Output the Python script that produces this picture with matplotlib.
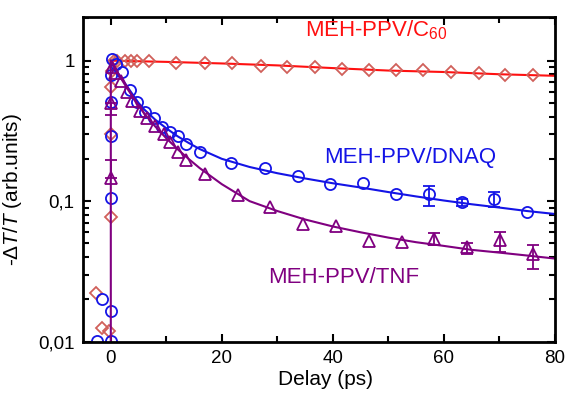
import matplotlib
matplotlib.use('Agg')
import matplotlib.pyplot as plt
from matplotlib.ticker import FixedLocator, FixedFormatter, LogLocator, NullFormatter

plt.rcParams['font.family'] = ['Liberation Sans', 'DejaVu Sans']
plt.rcParams['mathtext.fontset'] = 'custom'
plt.rcParams['mathtext.rm'] = 'Liberation Sans'
plt.rcParams['mathtext.it'] = 'Liberation Sans:italic'

# MEH-PPV/C60 (diamonds)
c60_x = [-2.7, -1.5, -0.3, 0, 0, 0, 0.2, 0.5, 1.2, 2.5, 3.6, 4.7, 6.8, 11.8, 16.9,
         21.9, 27, 31.8, 36.8, 41.7, 46.5, 51.4, 56.3, 61.3, 66.3, 71, 76]
c60_y = [0.022, 0.0125, 0.0119, 0.077, 0.30, 0.65, 0.85, 1.0, 1.0, 1.0, 0.99, 1.0, 0.99,
         0.968, 0.965, 0.955, 0.92, 0.906, 0.906, 0.869, 0.859, 0.859, 0.855, 0.834,
         0.813, 0.79, 0.79]
c60_fit_x = [0, 10, 20, 30, 40, 50, 60, 70, 80]
c60_fit_y = [1.0, 0.98, 0.955, 0.925, 0.885, 0.85, 0.83, 0.80, 0.78]

# MEH-PPV/DNAQ (circles)
dnaq_x = [-2.4, -1.5, 0, 0, 0, 0, 0, 0, 0.3, 1, 2.1, 3.4, 4.7, 6.2, 7.7, 9.2, 10.7,
          12.1, 13.6, 16, 21.7, 27.8, 33.7, 39.5, 45.5, 51.3, 57.3, 63.2, 69.1, 75]
dnaq_y = [0.0101, 0.020, 0.0101, 0.0165, 0.106, 0.29, 0.51, 0.79, 1.02, 0.95, 0.835,
          0.62, 0.51, 0.43, 0.388, 0.338, 0.31, 0.29, 0.257, 0.224, 0.188, 0.172,
          0.150, 0.133, 0.134, 0.113, 0.113, 0.098, 0.104, 0.083]
dnaq_err_x = [57.3, 63.2, 69.1]
dnaq_err_y = [0.113, 0.098, 0.104]
dnaq_err_lo = [0.093, 0.092, 0.091]
dnaq_err_hi = [0.129, 0.104, 0.116]
dnaq_fit_x = [0, 1, 2, 3, 4, 5, 6, 8, 10, 12, 14, 16, 20, 25, 30, 35, 40, 45, 50,
              55, 60, 65, 70, 75, 80]
dnaq_fit_y = [1.0, 0.85, 0.74, 0.65, 0.57, 0.50, 0.45, 0.38, 0.33, 0.29, 0.26, 0.235,
              0.20, 0.175, 0.158, 0.145, 0.134, 0.125, 0.116, 0.108, 0.101, 0.095,
              0.090, 0.085, 0.081]

# MEH-PPV/TNF (triangles)
tnf_x = [0, 0, 0.3, 0.8, 1.8, 3, 3.9, 5.3, 6.5, 8, 9.5, 10.7, 12.1, 13.6, 16.9,
         22.9, 28.7, 34.6, 40.6, 46.5, 52.4, 58.3, 64.2, 70.2, 76.1]
tnf_y = [0.145, 0.50, 0.9, 0.82, 0.72, 0.60, 0.52, 0.44, 0.39, 0.34, 0.30, 0.265,
         0.225, 0.195, 0.157, 0.111, 0.0906, 0.069, 0.066, 0.052, 0.051, 0.054,
         0.047, 0.053, 0.0418]
tnf_err_x = [0, 0, 58.3, 64.2, 70.2, 76.1]
tnf_err_y = [0.145, 0.50, 0.054, 0.047, 0.053, 0.0418]
tnf_err_lo = [0.145, 0.41, 0.0486, 0.0418, 0.0433, 0.0329]
tnf_err_hi = [0.195, 0.50, 0.059, 0.050, 0.0601, 0.049]
tnf_fit_x = [0, 0, 1, 2, 3, 4, 5, 6, 8, 10, 12, 14, 16, 20, 25, 30, 35, 40, 45, 50,
             55, 60, 65, 70, 75, 80]
tnf_fit_y = [0.005, 1.0, 0.85, 0.73, 0.63, 0.55, 0.48, 0.42, 0.34, 0.28, 0.235, 0.20,
             0.172, 0.132, 0.10, 0.085, 0.074, 0.066, 0.060, 0.055, 0.051, 0.048,
             0.045, 0.043, 0.041, 0.039]

y_ticks = [0.01, 0.1, 1]
y_tick_labels = ['0,01', '0,1', '1']
x_ticks = [0, 20, 40, 60, 80]

RED = '#ff1010'
RED_MK = '#d0605a'
BLUE = '#1414e6'
PURPLE = '#800080'

fig = plt.figure(figsize=(5.65, 3.94), dpi=100)
ax = fig.add_axes([0.147, 0.133, 0.835, 0.825])

mk = dict(linestyle='none', markerfacecolor='none', markeredgewidth=1.3)

ax.plot(c60_fit_x, c60_fit_y, '-', color=RED, lw=1.5)
ax.plot(c60_x, c60_y, marker='D', markersize=6.5, markeredgecolor=RED_MK, **mk)

ax.errorbar(dnaq_err_x, dnaq_err_y,
            yerr=[[y - l for y, l in zip(dnaq_err_y, dnaq_err_lo)],
                  [h - y for y, h in zip(dnaq_err_y, dnaq_err_hi)]],
            fmt='none', ecolor=BLUE, elinewidth=1.3, capsize=4, capthick=1.3)
ax.plot(dnaq_fit_x, dnaq_fit_y, '-', color=BLUE, lw=1.5)
ax.plot(dnaq_x, dnaq_y, marker='o', markersize=8, markeredgecolor=BLUE, **mk)

ax.errorbar(tnf_err_x, tnf_err_y,
            yerr=[[y - l for y, l in zip(tnf_err_y, tnf_err_lo)],
                  [h - y for y, h in zip(tnf_err_y, tnf_err_hi)]],
            fmt='none', ecolor=PURPLE, elinewidth=1.3, capsize=4, capthick=1.3)
ax.plot(tnf_fit_x, tnf_fit_y, '-', color=PURPLE, lw=1.5)
ax.plot(tnf_x, tnf_y, marker='^', markersize=8, markeredgecolor=PURPLE, **mk)

ax.set_yscale('log')
ax.set_xlim(-5, 80)
ax.set_ylim(0.01, 2.06)

ax.yaxis.set_major_locator(FixedLocator(y_ticks))
ax.yaxis.set_major_formatter(FixedFormatter(y_tick_labels))
ax.yaxis.set_minor_locator(LogLocator(base=10, subs=range(2, 10)))
ax.yaxis.set_minor_formatter(NullFormatter())
ax.set_xticks(x_ticks)
ax.set_xticks([10, 30, 50, 70], minor=True)

ax.tick_params(which='both', direction='in', top=True, right=True,
               labelsize=13.5, width=1.5, pad=6)
ax.tick_params(which='major', length=6)
ax.tick_params(which='minor', length=4)
for s in ax.spines.values():
    s.set_linewidth(2)

ax.text(35, 1.66, 'MEH-PPV/C$_{60}$', color=RED, fontsize=16, va='center')
ax.text(38.5, 0.205, 'MEH-PPV/DNAQ', color=BLUE, fontsize=16, va='center')
ax.text(28.4, 0.0285, 'MEH-PPV/TNF', color=PURPLE, fontsize=16, va='center')

ax.set_xlabel('Delay (ps)', fontsize=15)
ax.xaxis.set_label_coords(0.513, -0.088)
ax.set_ylabel(r'-$\it{ΔT/T}$ (arb.units)', fontsize=15)
ax.yaxis.set_label_coords(-0.125, 0.467)

fig.savefig('out.png', dpi=100)
